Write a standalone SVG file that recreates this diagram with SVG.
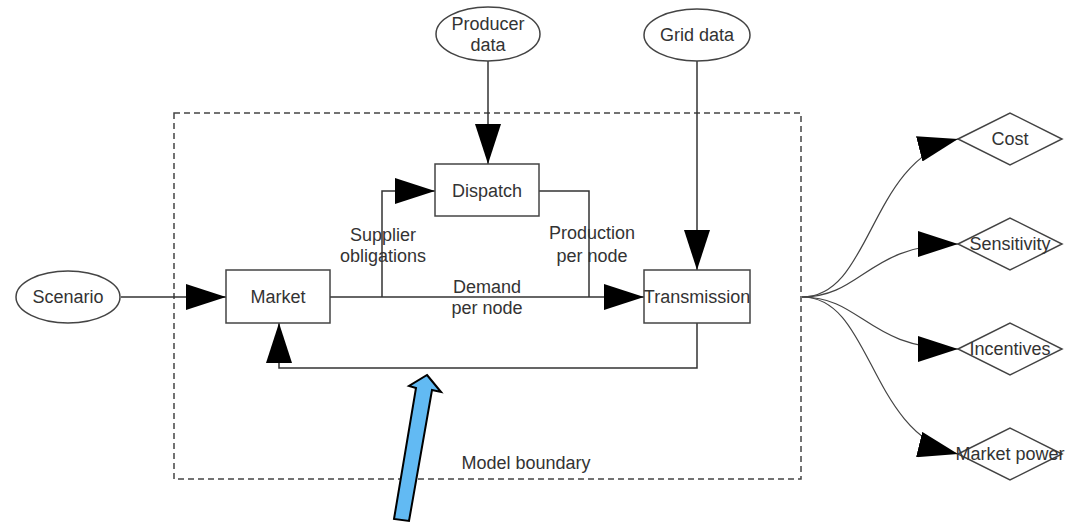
<svg xmlns="http://www.w3.org/2000/svg" width="1075" height="523" viewBox="0 0 1075 523">
<style>
.shape{fill:#fff;stroke:#444;stroke-width:1.5}
.line{fill:none;stroke:#333;stroke-width:1.5}
.curve{fill:none;stroke:#444;stroke-width:1.2}
text{font-family:"Liberation Sans",Arial,sans-serif;font-size:18px;fill:#333;text-anchor:middle}
</style>
<defs>
<marker id="ah" markerUnits="userSpaceOnUse" markerWidth="40" markerHeight="26" refX="40" refY="13" orient="auto" viewBox="0 0 40 26">
<path d="M0,0 L40,13 L0,26 z" fill="#000"/>
</marker>
</defs>
<rect id="boundary" x="174" y="113" width="627" height="366" fill="none" stroke="#444" stroke-width="1.5" stroke-dasharray="6 4"/>
<text x="526" y="469">Model boundary</text>
<g id="connectors">
<line class="line" x1="121" y1="297" x2="226" y2="297" marker-end="url(#ah)"/>
<line class="line" x1="330" y1="297" x2="644" y2="297" marker-end="url(#ah)"/>
<polyline class="line" points="382,297 382,191 435,191" marker-end="url(#ah)"/>
<polyline class="line" points="539,191 589,191 589,297"/>
<line class="line" x1="488" y1="61" x2="488" y2="164" marker-end="url(#ah)"/>
<line class="line" x1="697" y1="61" x2="697" y2="270" marker-end="url(#ah)"/>
<polyline class="line" points="697,323 697,368 279,368 279,323" marker-end="url(#ah)"/>
<path class="curve" d="M802,297 C872,297 868,162 958,139" marker-end="url(#ah)"/>
<path class="curve" d="M802,297 C862,297 868,244 958,244" marker-end="url(#ah)"/>
<path class="curve" d="M802,297 C862,297 868,349 958,349" marker-end="url(#ah)"/>
<path class="curve" d="M802,297 C872,297 868,432 958,454" marker-end="url(#ah)"/>
<text x="383" y="241">Supplier</text>
<text x="383" y="262">obligations</text>
<text x="592" y="239">Production</text>
<text x="592" y="262">per node</text>
<text x="487" y="293">Demand</text>
<text x="487" y="314">per node</text>
</g>
<g id="producer-data">
<ellipse class="shape" cx="488" cy="34" rx="52" ry="27"/>
<text x="488" y="30">Producer</text>
<text x="488" y="51">data</text>
</g>
<g id="grid-data">
<ellipse class="shape" cx="697" cy="35" rx="53" ry="26"/>
<text x="697" y="41">Grid data</text>
</g>
<g id="scenario">
<ellipse class="shape" cx="68" cy="297" rx="52" ry="26"/>
<text x="68" y="303">Scenario</text>
</g>
<g id="market">
<rect class="shape" x="226" y="270" width="104" height="53"/>
<text x="278" y="303">Market</text>
</g>
<g id="dispatch">
<rect class="shape" x="435" y="164" width="104" height="52"/>
<text x="487" y="197">Dispatch</text>
</g>
<g id="transmission">
<rect class="shape" x="644" y="270" width="106" height="53"/>
<text x="697" y="303">Transmission</text>
</g>
<g id="cost">
<polygon class="shape" points="958,139 1010,113 1062,139 1010,165"/>
<text x="1010" y="145">Cost</text>
</g>
<g id="sensitivity">
<polygon class="shape" points="958,244 1010,218 1062,244 1010,270"/>
<text x="1010" y="250">Sensitivity</text>
</g>
<g id="incentives">
<polygon class="shape" points="958,349 1010,323 1062,349 1010,375"/>
<text x="1010" y="355">Incentives</text>
</g>
<g id="market-power">
<polygon class="shape" points="958,454 1010,428 1062,454 1010,480"/>
<text x="1010" y="460">Market power</text>
</g>
<g id="pointer">
<polygon points="427,375 441,392 432,390 409,521 394,519 416,388 409,386" fill="#62baf3" stroke="#000" stroke-width="2" stroke-linejoin="miter"/>
</g>
</svg>
